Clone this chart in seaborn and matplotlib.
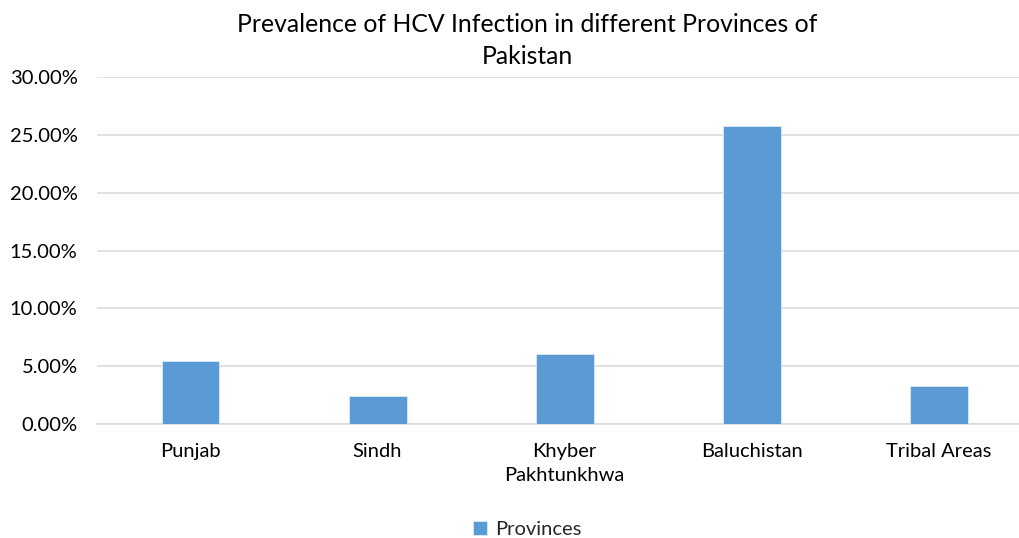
import pandas as pd
import numpy as np
import matplotlib.pyplot as plt
import seaborn as sns
from matplotlib.ticker import PercentFormatter

provinces = ["Punjab", "Sindh", "Khyber\nPakhtunkhwa", "Baluchistan", "Tribal Areas"]
prevalence = [5.43, 2.46, 6.04, 25.78, 3.27]  # percent
series_name = "Provinces"

df = pd.DataFrame({"Province": provinces, "Prevalence": prevalence, "Series": series_name})

sns.set_theme(style="white")
plt.rcParams['font.family'] = ['Lato', 'DejaVu Sans']

fig = plt.figure(figsize=(10.19, 5.38), dpi=100)
ax = fig.add_axes([97/1019, 1 - 424/538, 922/1019, (424 - 77)/538])

sns.barplot(data=df, x="Province", y="Prevalence", hue="Series", palette=["#5B9BD5"],
            saturation=1, width=0.31, ax=ax, zorder=3, edgecolor="#DDEBF7", linewidth=0.6)

ax.set_ylim(0, 30)
ax.set_yticks(np.arange(0, 31, 5))
ax.yaxis.set_major_formatter(PercentFormatter(decimals=2))
ax.set_xlim(-0.5, 4.43)
ax.grid(axis='y', color='#D9D9D9', linewidth=1.1, zorder=0)
for s in ['top', 'right', 'left']:
    ax.spines[s].set_visible(False)
ax.spines['bottom'].set_color('#D9D9D9')
ax.spines['bottom'].set_linewidth(1.1)
ax.tick_params(axis='both', length=0, labelsize=14.5, colors='black')
ax.tick_params(axis='x', pad=14)
ax.tick_params(axis='y', pad=14)
for lbl in ax.get_xticklabels():
    lbl.set_linespacing(1.45)
ax.set_xlabel("")
ax.set_ylabel("")

fig.suptitle("Prevalence of HCV Infection in different Provinces of\nPakistan",
             x=527/1019, y=0.975, fontsize=17.8, linespacing=1.45, color='black')

ax.legend(loc='lower center', bbox_to_anchor=(0.467, -0.38), frameon=False,
          fontsize=14.5, handlelength=0.7, handleheight=0.7, handletextpad=0.4)

plt.savefig("out.png", dpi=100)
